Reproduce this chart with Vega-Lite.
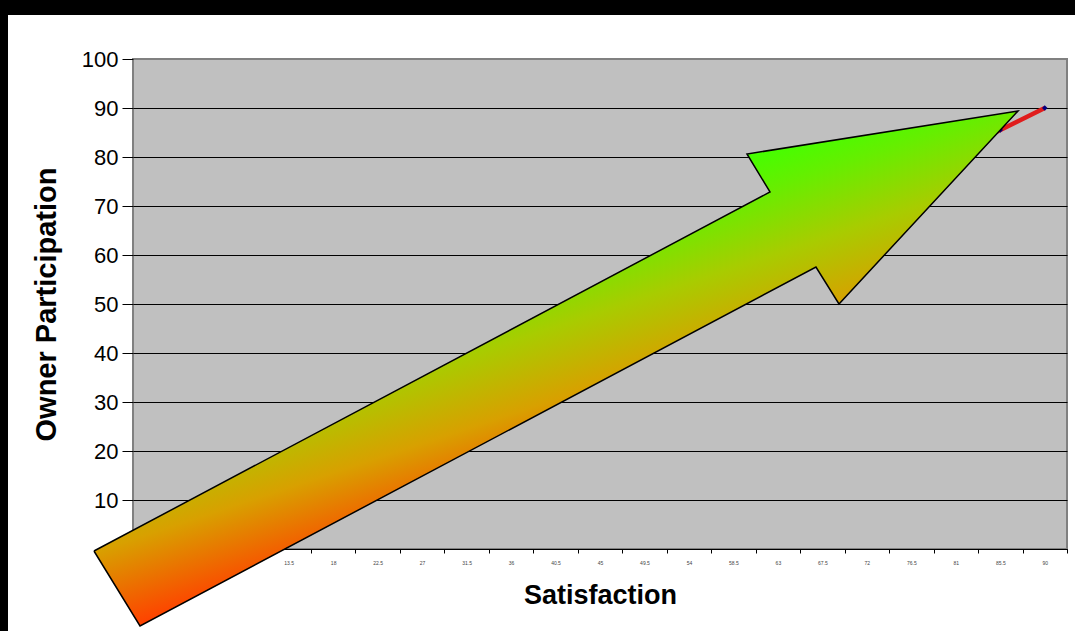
{
  "$schema": "https://vega.github.io/schema/vega-lite/v6.json",
  "background": "white",
  "padding": 0,
  "config": {"font": "Liberation Sans"},
  "datasets": {
    "series": [
      {"satisfaction": 0, "participation": 0},
      {"satisfaction": 4.5, "participation": 4.5},
      {"satisfaction": 9, "participation": 9},
      {"satisfaction": 13.5, "participation": 13.5},
      {"satisfaction": 18, "participation": 18},
      {"satisfaction": 22.5, "participation": 22.5},
      {"satisfaction": 27, "participation": 27},
      {"satisfaction": 31.5, "participation": 31.5},
      {"satisfaction": 36, "participation": 36},
      {"satisfaction": 40.5, "participation": 40.5},
      {"satisfaction": 45, "participation": 45},
      {"satisfaction": 49.5, "participation": 49.5},
      {"satisfaction": 54, "participation": 54},
      {"satisfaction": 58.5, "participation": 58.5},
      {"satisfaction": 63, "participation": 63},
      {"satisfaction": 67.5, "participation": 67.5},
      {"satisfaction": 72, "participation": 72},
      {"satisfaction": 76.5, "participation": 76.5},
      {"satisfaction": 81, "participation": 81},
      {"satisfaction": 85.5, "participation": 85.5},
      {"satisfaction": 90, "participation": 90}
    ],
    "arrow": [
      {"i": 1, "ax": -6.2, "ay": -0.41},
      {"i": 2, "ax": 62.2, "ay": 72.86},
      {"i": 3, "ax": 59.87, "ay": 80.61},
      {"i": 4, "ax": 87.29, "ay": 89.39},
      {"i": 5, "ax": 69.18, "ay": 50.0},
      {"i": 6, "ax": 66.85, "ay": 57.55},
      {"i": 7, "ax": -1.54, "ay": -15.71},
      {"i": 8, "ax": -6.2, "ay": -0.41}
    ],
    "empty": []
  },
  "spacing": 0,
  "hconcat": [
    {
      "width": 8,
      "height": 631,
      "data": {"name": "empty"},
      "mark": "point",
      "view": {"fill": "black", "stroke": null}
    },
    {
      "spacing": 32,
      "vconcat": [
        {
          "width": 1067,
          "height": 15,
          "data": {"name": "empty"},
          "mark": "point",
          "view": {"fill": "black", "stroke": null}
        },
        {
          "spacing": 22,
          "hconcat": [
            {
              "width": 1,
              "height": 1,
              "data": {"name": "empty"},
              "mark": "point",
              "view": {"stroke": null}
            },
            {
              "width": 934,
              "height": 490,
              "view": {"fill": "#c0c0c0", "stroke": "#808080", "strokeWidth": 2},
              "resolve": {"scale": {"x": "independent"}, "axis": {"x": "independent"}},
              "layer": [
                {
                  "data": {"name": "series"},
                  "mark": {
                    "type": "line",
                    "color": "#e01c1c",
                    "strokeWidth": 4.5,
                    "clip": false,
                    "point": {"shape": "diamond", "filled": true, "color": "#000080", "size": 30, "opacity": 1}
                  },
                  "encoding": {
                    "x": {
                      "field": "satisfaction",
                      "type": "ordinal",
                      "sort": "ascending",
                      "scale": {"type": "band", "paddingInner": 0, "paddingOuter": 0},
                      "axis": {
                        "title": "Satisfaction",
                        "titleFontSize": 27,
                        "titleFontWeight": "bold",
                        "titleColor": "black",
                        "titlePadding": 17,
                        "labelFontSize": 5,
                        "labelColor": "#444",
                        "labelAngle": 0,
                        "labelPadding": 7,
                        "tickBand": "extent",
                        "tickSize": 4,
                        "tickColor": "black",
                        "domainColor": "black",
                        "domainWidth": 1,
                        "grid": false,
                        "zindex": 0
                      }
                    },
                    "y": {
                      "field": "participation",
                      "type": "quantitative",
                      "scale": {"domain": [0, 100], "nice": false, "zero": true},
                      "axis": {
                        "title": "Owner Participation",
                        "titleFontSize": 29,
                        "titleFontWeight": "bold",
                        "titleColor": "black",
                        "titlePadding": 20,
                        "values": [0, 10, 20, 30, 40, 50, 60, 70, 80, 90, 100],
                        "labelFontSize": 22,
                        "labelColor": "black",
                        "labelPadding": 4,
                        "tickSize": 11,
                        "tickColor": "black",
                        "domain": false,
                        "grid": true,
                        "gridColor": {"condition": {"test": "datum.value === 100", "value": "#808080"}, "value": "black"},
                        "gridWidth": 1,
                        "gridOpacity": 1,
                        "zindex": 0
                      }
                    }
                  }
                },
                {
                  "data": {"name": "arrow"},
                  "mark": {
                    "type": "line",
                    "clip": false,
                    "stroke": "black",
                    "strokeWidth": 1.5,
                    "fill": {
                      "gradient": "linear",
                      "x1": 0.05, "y1": 1.0, "x2": -0.18, "y2": 0.613,
                      "stops": [
                        {"offset": 0, "color": "#ff4000"},
                        {"offset": 0.33, "color": "#d8a000"},
                        {"offset": 0.6, "color": "#a8cc00"},
                        {"offset": 0.85, "color": "#66ee00"},
                        {"offset": 1, "color": "#44ff00"}
                      ]
                    }
                  },
                  "encoding": {
                    "x": {"field": "ax", "type": "quantitative", "scale": {"domain": [-2.25, 92.25], "nice": false, "zero": false}, "axis": null},
                    "y": {"field": "ay", "type": "quantitative"},
                    "order": {"field": "i", "type": "quantitative"}
                  }
                }
              ]
            }
          ]
        }
      ]
    }
  ]
}
